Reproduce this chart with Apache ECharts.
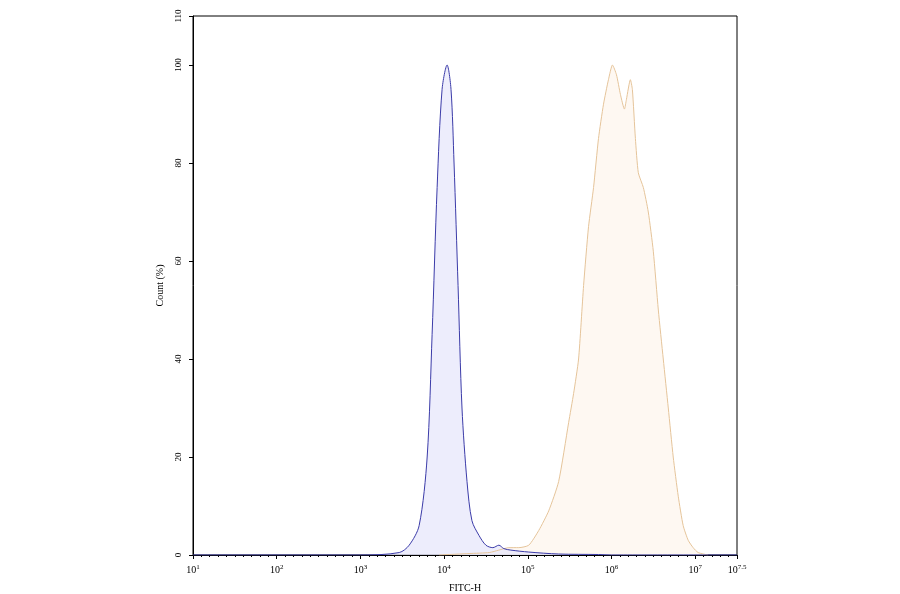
<!DOCTYPE html>
<html><head><meta charset="utf-8">
<script src="https://cdn.jsdelivr.net/npm/echarts@6/dist/echarts.min.js"></script>
</head><body style="margin:0">
<div id="main" style="width:900px;height:594px;"></div>
<script>
// x values are log10 of FITC-H
var blueX = [1.0, 3.0, 3.464, 3.583, 3.702, 3.798, 3.857, 3.917, 3.976, 4.036, 4.083, 4.119, 4.167, 4.214, 4.274, 4.333, 4.417, 4.5, 4.583, 4.655, 4.714, 4.798, 5.012, 5.369, 5.845, 6.0, 7.5];
var blueY = [0, 0, 0.5, 2, 6, 20, 45, 75, 95, 100, 95, 80, 55, 30, 15, 7, 4, 2, 1.5, 2, 1.3, 1, 0.6, 0.2, 0.1, 0, 0];
var orangeX = [3.94, 4.30, 4.54, 4.655, 4.774, 4.893, 5.012, 5.131, 5.25, 5.369, 5.488, 5.548, 5.607, 5.667, 5.726, 5.786, 5.845, 5.905, 5.964, 6.012, 6.06, 6.107, 6.155, 6.179, 6.226, 6.25, 6.286, 6.321, 6.381, 6.44, 6.5, 6.56, 6.619, 6.679, 6.738, 6.798, 6.857, 6.917, 6.976, 7.036, 7.155];
var orangeY = [0, 0.3, 0.5, 1, 1.5, 1.5, 2, 5, 9, 15, 27, 33, 40, 55, 67, 75, 85, 92, 97, 100, 98, 94, 91, 93, 97, 95, 85, 78, 75, 70, 62, 50, 40, 30, 20, 12, 6, 3, 1.5, 0.5, 0];
var xTicks = [1, 2, 3, 4, 5, 6, 7, 7.5];
var yTicks = [0, 20, 40, 60, 80, 100, 110];

function pairs(xs, ys) { return xs.map(function (x, i) { return [x, ys[i]]; }); }
var font = 'Liberation Serif';
var chart = echarts.init(document.getElementById('main'));
chart.setOption({
  animation: false,
  textStyle: { fontFamily: font },
  grid: { left: 193, right: 163, top: 16, bottom: 39, outerBoundsMode: 'none', show: true, borderColor: '#000', borderWidth: 1 },
  xAxis: {
    type: 'value', min: 1, max: 7.5,
    name: 'FITC-H', nameLocation: 'middle', nameGap: 28,
    nameTextStyle: { fontFamily: font, fontSize: 10, color: '#000' },
    axisLine: { lineStyle: { color: '#000' } },
    axisTick: { customValues: xTicks, length: 4, lineStyle: { color: '#000' } },
    minorTick: { show: true, splitNumber: 10, length: 2, lineStyle: { color: '#000' } },
    splitLine: { show: false },
    axisLabel: {
      customValues: xTicks, margin: 9,
      formatter: function (v) { return '{b|10}{s|' + v + '}'; },
      rich: {
        b: { fontFamily: font, fontSize: 10, color: '#000' },
        s: { fontFamily: font, fontSize: 7, color: '#000', verticalAlign: 'top', padding: [0, 0, 6, 0] }
      }
    }
  },
  yAxis: {
    type: 'value', min: 0, max: 110,
    name: 'Count (%)', nameLocation: 'middle', nameGap: 28, nameRotate: 90,
    nameTextStyle: { fontFamily: font, fontSize: 10, color: '#000' },
    axisLine: { show: true, lineStyle: { color: '#000' } },
    axisTick: { show: true, customValues: yTicks, length: 4, lineStyle: { color: '#000' } },
    splitLine: { show: false },
    axisLabel: { customValues: yTicks, rotate: 90, fontFamily: font, fontSize: 9, color: '#000', margin: 10 }
  },
  series: [
    {
      type: 'line', data: pairs(orangeX, orangeY), symbol: 'none', smooth: 0.2,
      lineStyle: { color: '#e5c49a', width: 1 }, areaStyle: { color: '#fdf5ec' }
    },
    {
      type: 'line', data: pairs(blueX, blueY), symbol: 'none', smooth: 0.3,
      lineStyle: { color: '#3b3ba8', width: 1 }, areaStyle: { color: '#e6e6fb' }
    }
  ]
});
</script>
</body></html>
